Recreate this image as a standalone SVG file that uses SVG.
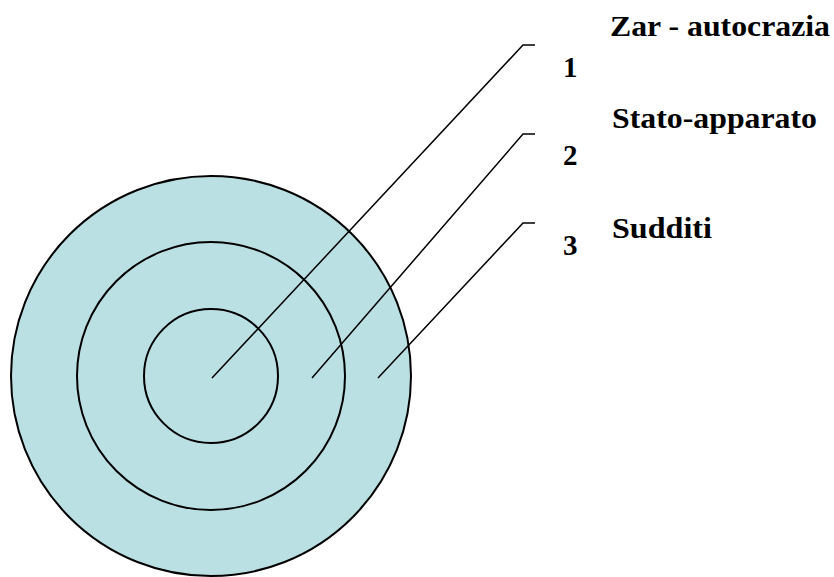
<svg xmlns="http://www.w3.org/2000/svg" width="834" height="577" viewBox="0 0 834 577">
<style>
.ring{fill:#BBE0E3;stroke:#000;stroke-width:2}
.ln{fill:none;stroke:#000;stroke-width:1.5}
.lb{font-family:'Liberation Serif',serif;font-weight:700;font-size:29px;fill:#000}
</style>
<rect width="834" height="577" fill="#fff"/>
<g id="outer"><circle class="ring" cx="211" cy="376" r="200"/></g>
<g id="middle"><circle class="ring" cx="211" cy="376" r="134"/></g>
<g id="inner"><circle class="ring" cx="211" cy="376" r="67"/></g>
<g id="connectors">
<polyline class="ln" points="212,378 523,45 535,45"/>
<polyline class="ln" points="312,378 523,134 535,134"/>
<polyline class="ln" points="378,378 523,223 535,223"/>
</g>
<g id="label1" class="lb" font-family="Liberation Serif">
<text x="610" y="36" textLength="220" lengthAdjust="spacingAndGlyphs">Zar - autocrazia</text>
<text x="563" y="77">1</text>
</g>
<g id="label2" class="lb" font-family="Liberation Serif">
<text x="612" y="128" textLength="205" lengthAdjust="spacingAndGlyphs">Stato-apparato</text>
<text x="563" y="165">2</text>
</g>
<g id="label3" class="lb" font-family="Liberation Serif">
<text x="612" y="238" textLength="100" lengthAdjust="spacingAndGlyphs">Sudditi</text>
<text x="563" y="255">3</text>
</g>
</svg>
